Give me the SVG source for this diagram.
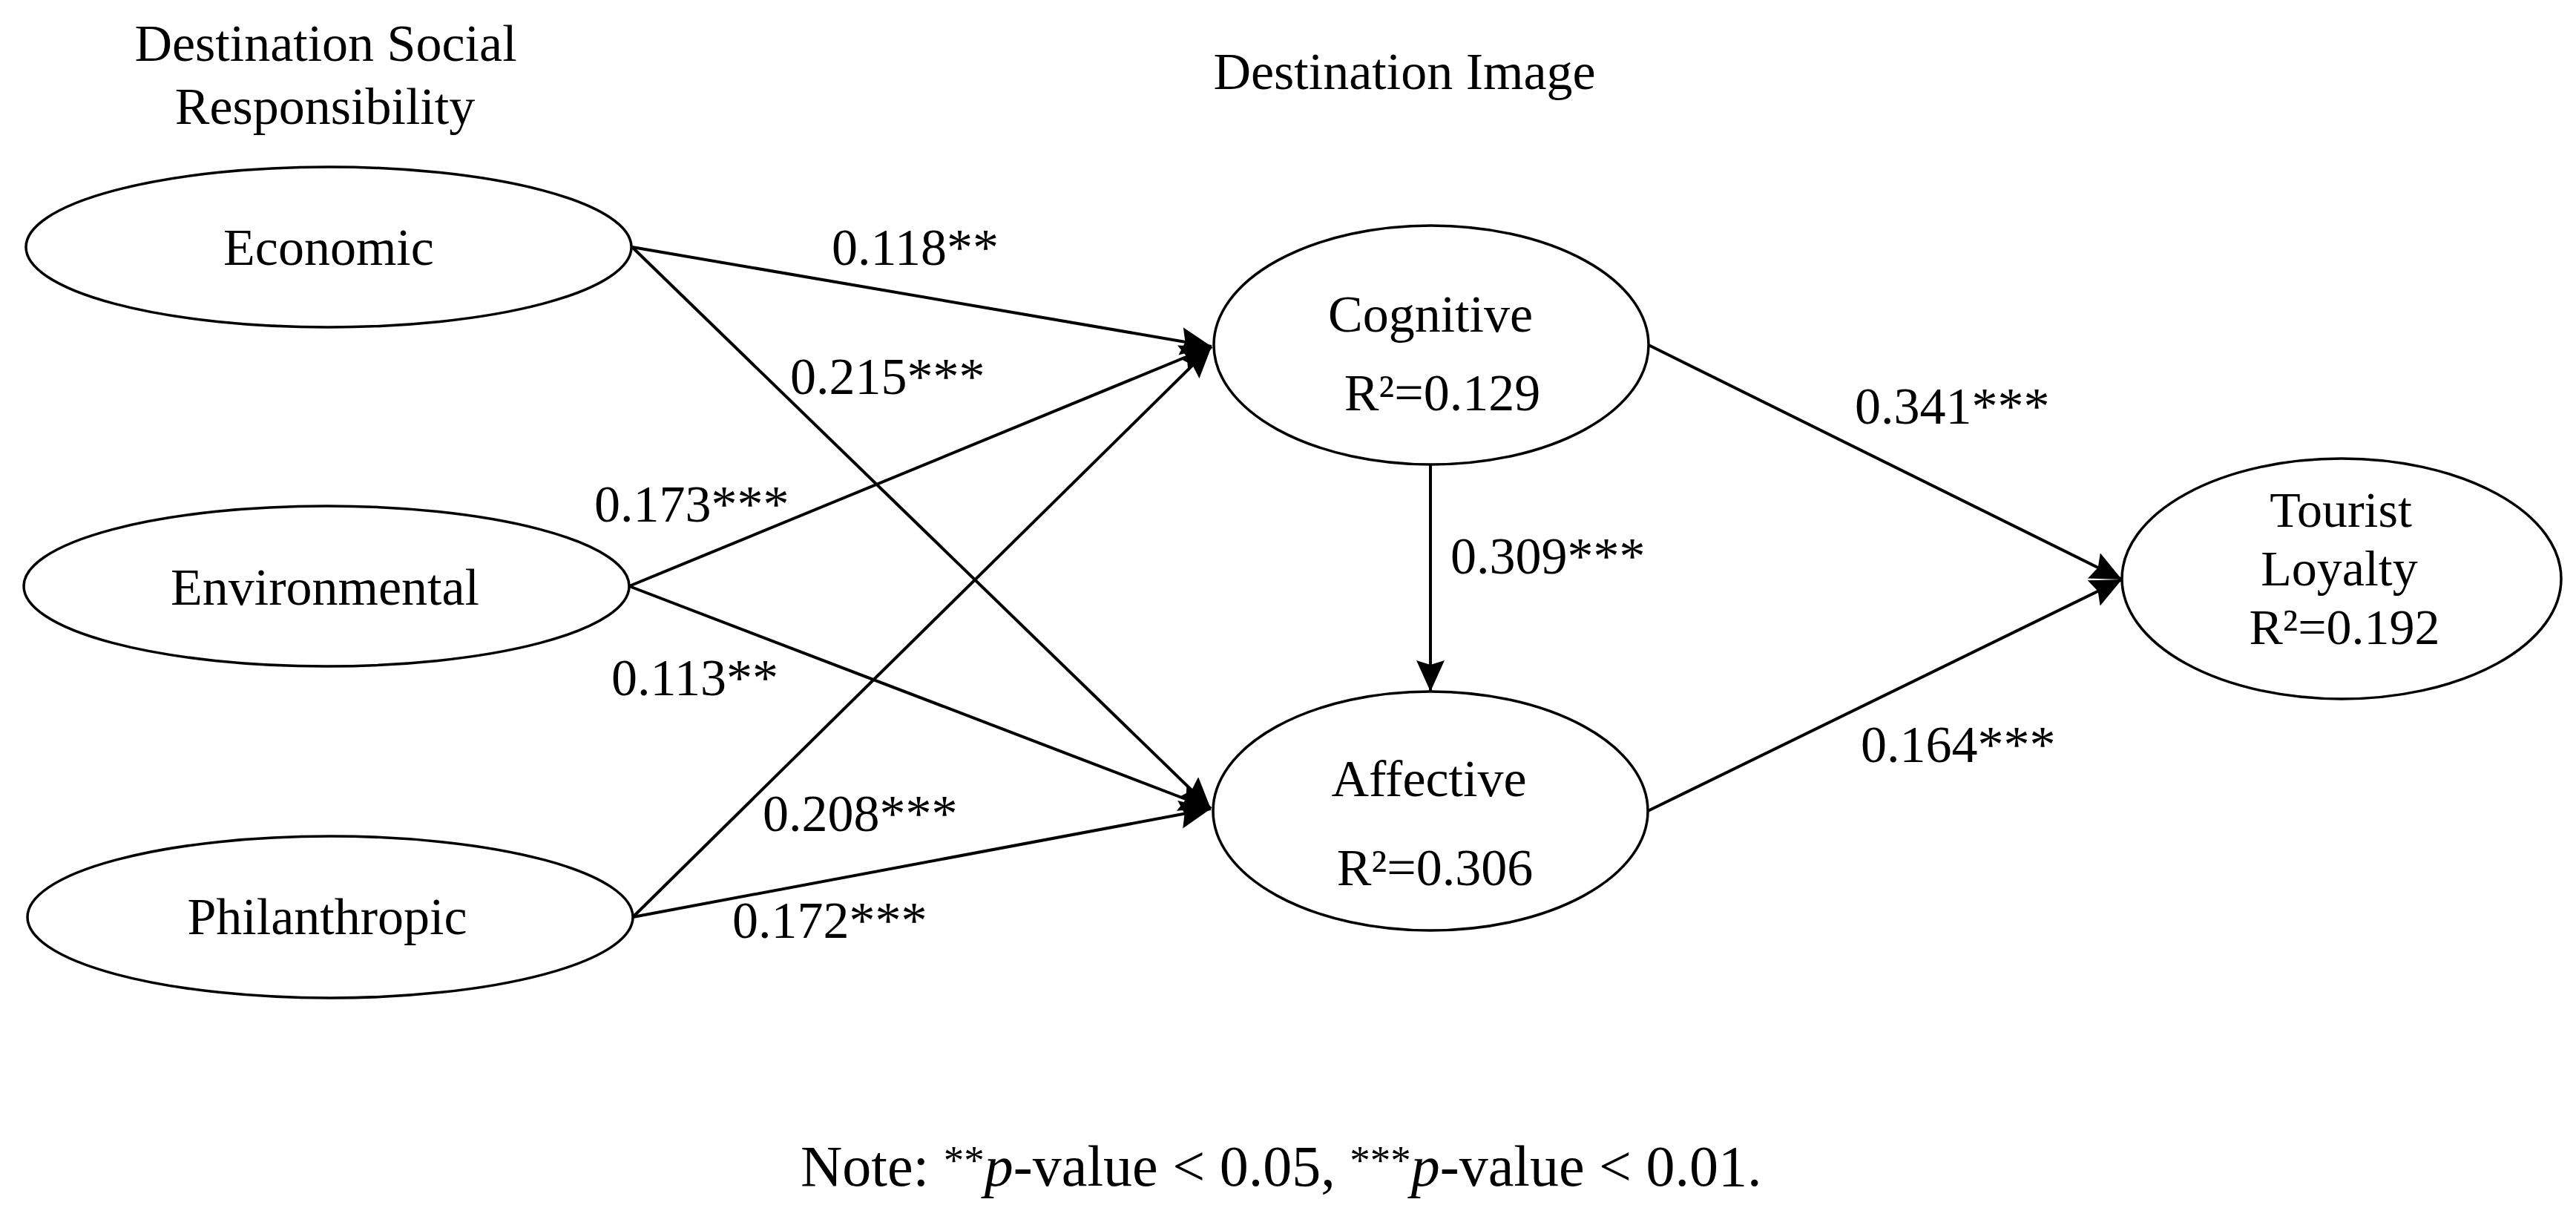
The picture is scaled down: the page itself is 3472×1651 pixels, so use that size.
<svg xmlns="http://www.w3.org/2000/svg" width="3472" height="1651" viewBox="0 0 3472 1651">
<defs>
<style>
text{font-family:"Liberation Serif","Times New Roman",serif;font-size:70px;fill:#000}
.node ellipse{fill:#fff;stroke:#000;stroke-width:3.5}
.conn line{stroke:#000;stroke-width:4;fill:none}
.mid{text-anchor:middle}
.note{font-size:78px}
.tl{font-size:68px}
</style>
<marker id="arr" markerUnits="userSpaceOnUse" markerWidth="44" markerHeight="40" refX="42" refY="19" orient="auto">
<path d="M0,0 L42,19 L0,38 L6,19 z" fill="#000"/>
</marker>
</defs>
<rect width="3472" height="1651" fill="#fff"/>
<g id="headers">
<text class="mid" x="439" y="82">Destination Social</text>
<text class="mid" x="438" y="167">Responsibility</text>
<text class="mid" x="1893" y="120">Destination Image</text>
</g>
<g id="connectors" class="conn">
<line x1="852" y1="333" x2="1633" y2="467" marker-end="url(#arr)"/>
<line x1="852" y1="333" x2="1632" y2="1090" marker-end="url(#arr)"/>
<line x1="848" y1="790" x2="1633" y2="467" marker-end="url(#arr)"/>
<line x1="848" y1="790" x2="1632" y2="1090" marker-end="url(#arr)"/>
<line x1="853" y1="1236" x2="1633" y2="467" marker-end="url(#arr)"/>
<line x1="853" y1="1236" x2="1632" y2="1090" marker-end="url(#arr)"/>
<line x1="1928" y1="626" x2="1928" y2="932" marker-end="url(#arr)"/>
<line x1="2222" y1="465" x2="2860" y2="781" marker-end="url(#arr)"/>
<line x1="2221" y1="1093" x2="2860" y2="781" marker-end="url(#arr)"/>
</g>
<g id="labels">
<text x="1121" y="357">0.118**</text>
<text x="1065" y="531">0.215***</text>
<text x="801" y="703">0.173***</text>
<text x="824" y="937">0.113**</text>
<text x="1028" y="1120">0.208***</text>
<text x="987" y="1264">0.172***</text>
<text x="1955" y="773">0.309***</text>
<text x="2500" y="571">0.341***</text>
<text x="2508" y="1027">0.164***</text>
</g>
<g id="economic" class="node">
<ellipse cx="443" cy="333" rx="408" ry="108"/>
<text class="mid" x="443" y="357">Economic</text>
</g>
<g id="environmental" class="node">
<ellipse cx="440" cy="790" rx="408" ry="108"/>
<text class="mid" x="438" y="815">Environmental</text>
</g>
<g id="philanthropic" class="node">
<ellipse cx="445" cy="1236" rx="408" ry="109"/>
<text class="mid" x="441" y="1259">Philanthropic</text>
</g>
<g id="cognitive" class="node">
<ellipse cx="1929" cy="465" rx="293" ry="161"/>
<text class="mid" x="1928" y="447">Cognitive</text>
<text class="mid" x="1944" y="553">R²=0.129</text>
</g>
<g id="affective" class="node">
<ellipse cx="1928" cy="1093" rx="293" ry="161"/>
<text class="mid" x="1926" y="1073">Affective</text>
<text class="mid" x="1934" y="1193">R²=0.306</text>
</g>
<g id="tourist-loyalty" class="node">
<ellipse cx="3156" cy="780" rx="296" ry="162"/>
<text class="mid tl" x="3155" y="710">Tourist</text>
<text class="mid tl" x="3153" y="789">Loyalty</text>
<text class="mid tl" x="3160" y="868">R²=0.192</text>
</g>
<g id="note">
<text class="note" x="1079" y="1598">Note: <tspan font-size="55" dy="-16">**</tspan><tspan dy="16" font-style="italic">p</tspan>-value &lt; 0.05, <tspan font-size="55" dy="-16">***</tspan><tspan dy="16" font-style="italic">p</tspan>-value &lt; 0.01.</text>
</g>
</svg>
